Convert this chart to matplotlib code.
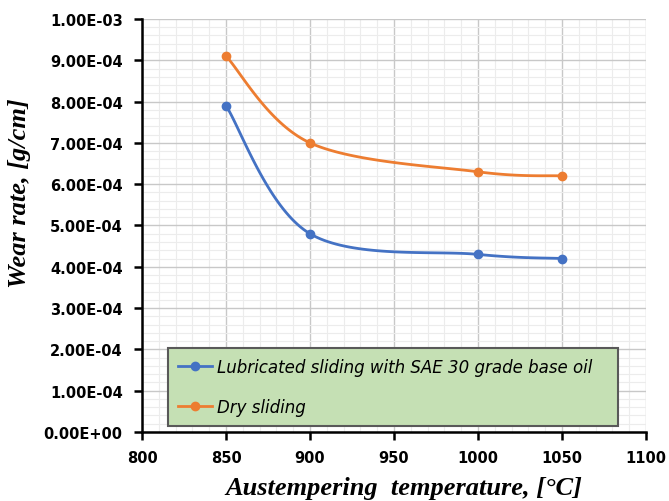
import numpy as np
import matplotlib.pyplot as plt
from matplotlib.ticker import MultipleLocator, FormatStrFormatter

# Wear rate vs austempering temperature
temps = [850, 900, 1000, 1050]
lubricated = [7.9e-4, 4.8e-4, 4.3e-4, 4.2e-4]
dry = [9.1e-4, 7.0e-4, 6.3e-4, 6.2e-4]
labels = ["Lubricated sliding with SAE 30 grade base oil", "Dry sliding"]
colors = ["#4472c4", "#ed7d31"]


def smooth(x, y, n=40):
    # spreadsheet-style smoothed line: cubic Bezier with Catmull-Rom tangents
    p = np.column_stack([x, y]).astype(float)
    out = []
    for i in range(len(p) - 1):
        p0 = p[max(i - 1, 0)]
        p1 = p[i]
        p2 = p[i + 1]
        p3 = p[min(i + 2, len(p) - 1)]
        c1 = p1 + (p2 - p0) / 6
        c2 = p2 - (p3 - p1) / 6
        t = np.linspace(0, 1, n)[:, None]
        seg = (1 - t) ** 3 * p1 + 3 * (1 - t) ** 2 * t * c1 + 3 * (1 - t) * t ** 2 * c2 + t ** 3 * p2
        out.append(seg)
    s = np.vstack(out)
    return s[:, 0], s[:, 1]


fig = plt.figure(figsize=(6.69, 5.02), dpi=100)
ax = fig.add_axes([0.2123, 0.1375, 0.7533, 0.8227])

for ys, c, lab in zip([lubricated, dry], colors, labels):
    sx, sy = smooth(temps, ys)
    ax.plot(sx, sy, color=c, lw=2)
    ax.plot(temps, ys, "o", color=c, ms=6)
    ax.plot([], [], "-o", color=c, lw=2, ms=6, label=lab)

ax.set_xlim(800, 1100)
ax.set_ylim(0, 1e-3)
ax.xaxis.set_major_locator(MultipleLocator(50))
ax.xaxis.set_minor_locator(MultipleLocator(10))
ax.yaxis.set_major_locator(MultipleLocator(1e-4))
ax.yaxis.set_minor_locator(MultipleLocator(2e-5))
ax.yaxis.set_major_formatter(FormatStrFormatter("%.2E"))

ax.grid(which="major", color="#c8c8c8", lw=1)
ax.grid(which="minor", color="#ececec", lw=0.8)
ax.set_axisbelow(True)

for s in ["top", "right"]:
    ax.spines[s].set_visible(False)
for s in ["left", "bottom"]:
    ax.spines[s].set_linewidth(1.8)
ax.tick_params(which="major", direction="out", length=6, width=1.8,
               labelsize=10.5)
ax.tick_params(axis="y", pad=8)
ax.tick_params(axis="x", pad=7)
ax.tick_params(which="minor", length=0)
for t in ax.get_xticklabels() + ax.get_yticklabels():
    t.set_fontweight("bold")

ax.set_ylabel("Wear rate, [g/cm]", family="Liberation Serif", fontsize=19,
              fontweight="bold", style="italic")
ax.yaxis.set_label_coords(-0.22, 0.58)
ax.set_xlabel("Austempering  temperature, [°C]", family="Liberation Serif",
              fontsize=19, fontweight="bold", style="italic")
ax.xaxis.set_label_coords(0.52, -0.107)

leg = ax.legend(loc="lower left", bbox_to_anchor=(0.052, 0.015, 0.892, 0.186),
                mode="expand", borderaxespad=0, fancybox=False, framealpha=1,
                facecolor="#c5e0b4", edgecolor="#595959",
                prop={"style": "italic", "size": 12}, handlelength=2.0,
                handletextpad=0.3, labelspacing=1.3, borderpad=0.6)
leg.get_frame().set_linewidth(1.5)

fig.savefig("out.png", dpi=100)
